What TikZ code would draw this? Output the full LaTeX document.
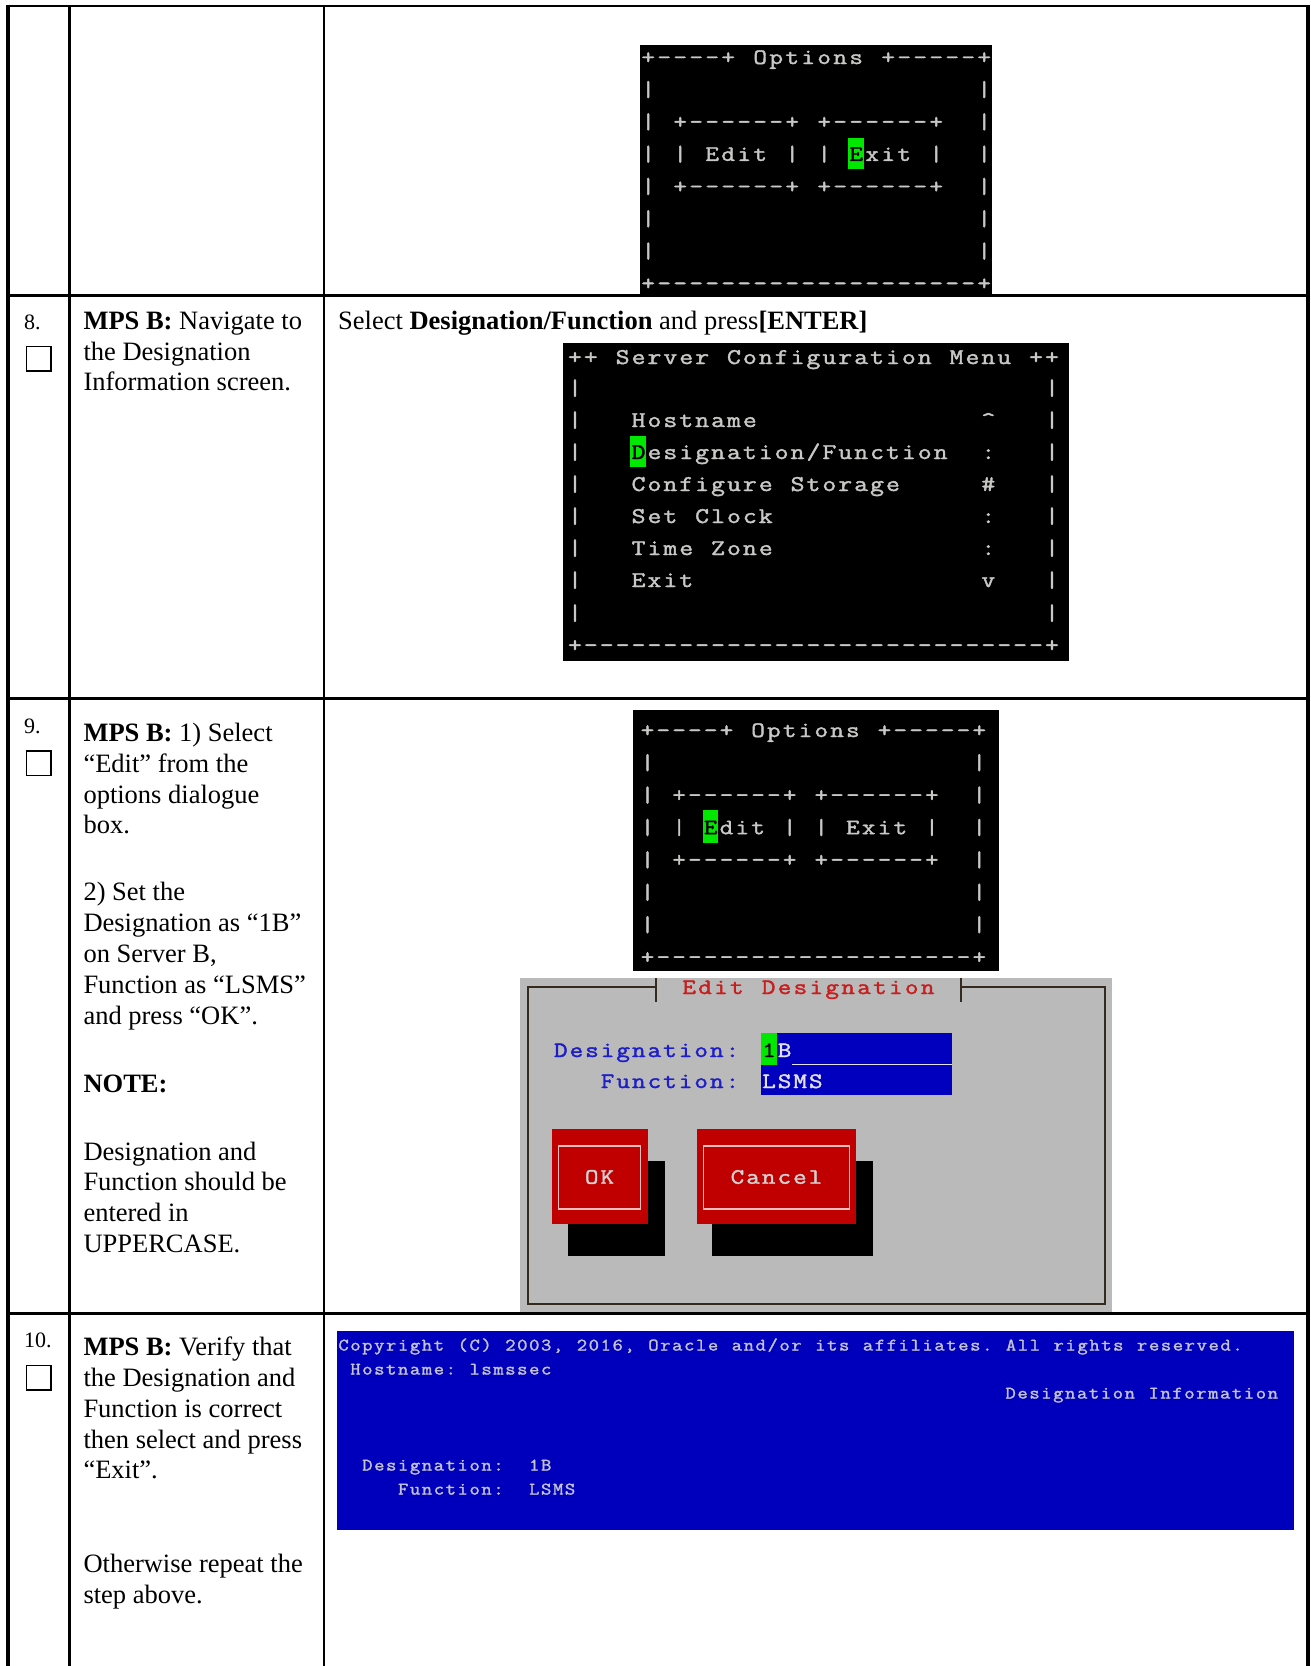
\documentclass[tikz,border=0pt]{standalone}
\usepackage{graphicx}
\usepackage{fontspec}
\setmainfont{Liberation Serif}
\newfontfamily\termfont{Latin Modern Mono}[FakeBold=1.6]

\definecolor{termfg}{RGB}{200,200,198}
\definecolor{hlgreen}{RGB}{0,232,0}
\definecolor{dlggray}{RGB}{186,186,186}
\definecolor{dlgframe}{RGB}{52,42,30}
\definecolor{dlgred}{RGB}{192,0,0}
\definecolor{dlgtitle}{RGB}{200,30,30}
\definecolor{dlgblue}{RGB}{30,30,200}
\definecolor{fieldblue}{RGB}{0,0,190}
\definecolor{fieldfg}{RGB}{225,225,235}
\definecolor{btnline}{RGB}{235,190,190}
\definecolor{btntext}{RGB}{210,210,210}
\definecolor{infobg}{RGB}{0,0,188}
\definecolor{infofg}{RGB}{194,194,210}

% fixed-pitch character cells for the terminal screens,
% each glyph widened a little to fill its cell like a console font
\newlength\tpitch
\def\txs{1}
\def\tstopmark{TSTOP}
\def\tline#1{\tlineloop#1\tstopmark}
\def\tlineloop#1{\ifx#1\tstopmark\else\makebox[\tpitch][c]{\scalebox{\txs}[1]{#1}}\expandafter\tlineloop\fi}
\newcommand\monofont[3]{\termfont\fontsize{#1}{30}\selectfont\setlength{\tpitch}{#2pt}\def\txs{#3}}

\tikzset{
  body/.style={anchor=base west, inner sep=0pt, font=\fontsize{26.5}{30.8}\selectfont},
  numlbl/.style={anchor=base west, inner sep=0pt, font=\fontsize{22}{26}\selectfont},
  mono/.style={anchor=base west, inner sep=0pt, text=termfg},
  monoA/.style={mono, font={\monofont{22}{16}{1.2}}},
  monoB/.style={mono, font={\monofont{22.5}{15.9}{1.2}}},
  monoC/.style={mono, font={\monofont{22}{15.8}{1.2}}},
  monoD/.style={mono, font={\monofont{22}{15.6}{1.2}}},
  monoE/.style={mono, text=infofg, font={\monofont{17.5}{11.92}{1.15}}},
  outerrule/.style={line width=3.6pt},
  rowrule/.style={line width=2.6pt},
  colrule/.style={line width=2.4pt},
  chkbox/.style={draw, line width=1.8pt},
}

\begin{document}
\begin{tikzpicture}[x=1pt,y=-1pt]
\useasboundingbox (0,0) rectangle (1310,1666);
\fill[white] (0,0) rectangle (1310,1666);

% ---------- Options dialogue, Exit selected ----------
\fill[black] (640,45) rectangle (992,296);
\node[monoA] (oa0) at (640,64.0)  {\tline{+----+~Options~+-----+}};
\node[monoA] (oa1) at (640,96.3)  {\tline{|~~~~~~~~~~~~~~~~~~~~|}};
\node[monoA] (oa2) at (640,128.6) {\tline{|~+------+~+------+~~|}};
\node[monoA] (oa3) at (640,160.9) {\tline{|~|~Edit~|~|~~xit~|~~|}};
\node[monoA] (oa4) at (640,193.2) {\tline{|~+------+~+------+~~|}};
\node[monoA] (oa5) at (640,225.5) {\tline{|~~~~~~~~~~~~~~~~~~~~|}};
\node[monoA] (oa6) at (640,257.8) {\tline{|~~~~~~~~~~~~~~~~~~~~|}};
\node[monoA] (oa7) at (640,290.1) {\tline{+--------------------+}};
\fill[hlgreen] (848,138.4) rectangle (864,169.4);
\node[monoA, text=black] (oahl) at (848,160.9) {\tline{E}};

% ---------- Server Configuration Menu ----------
\fill[black] (563,343) rectangle (1069,661);
\node[monoB] (sm0) at (566.8,364) {\tline{++~Server~Configuration~Menu~++}};
\node[monoB] (sm1) at (566.8,395) {\tline{|~~~~~~~~~~~~~~~~~~~~~~~~~~~~~|}};
\node[monoB] (sm2) at (566.8,427) {\tline{|~~~Hostname~~~~~~~~~~~~~~\textasciicircum~~~|}};
\node[monoB] (sm3) at (566.8,459) {\tline{|~~~~esignation/Function~~:~~~|}};
\node[monoB] (sm4) at (566.8,491) {\tline{|~~~Configure~Storage~~~~~\#~~~|}};
\node[monoB] (sm5) at (566.8,523) {\tline{|~~~Set~Clock~~~~~~~~~~~~~:~~~|}};
\node[monoB] (sm6) at (566.8,555) {\tline{|~~~Time~Zone~~~~~~~~~~~~~:~~~|}};
\node[monoB] (sm7) at (566.8,587) {\tline{|~~~Exit~~~~~~~~~~~~~~~~~~v~~~|}};
\node[monoB] (sm8) at (566.8,620) {\tline{|~~~~~~~~~~~~~~~~~~~~~~~~~~~~~|}};
\node[monoB] (sm9) at (566.8,652) {\tline{+-----------------------------+}};
\fill[hlgreen] (630.4,436) rectangle (646.3,467);
\node[monoB, text=black] (smhl) at (630.4,459) {\tline{D}};

% ---------- Options dialogue, Edit selected ----------
\fill[black] (633,710) rectangle (999,971);
\node[monoC] (ob0) at (639.4,737.0) {\tline{+----+~Options~+-----+}};
\node[monoC] (ob1) at (639.4,769.4) {\tline{|~~~~~~~~~~~~~~~~~~~~|}};
\node[monoC] (ob2) at (639.4,801.8) {\tline{|~+------+~+------+~~|}};
\node[monoC] (ob3) at (639.4,834.2) {\tline{|~|~~dit~|~|~Exit~|~~|}};
\node[monoC] (ob4) at (639.4,866.6) {\tline{|~+------+~+------+~~|}};
\node[monoC] (ob5) at (639.4,899.0) {\tline{|~~~~~~~~~~~~~~~~~~~~|}};
\node[monoC] (ob6) at (639.4,931.4) {\tline{|~~~~~~~~~~~~~~~~~~~~|}};
\node[monoC] (ob7) at (639.4,963.8) {\tline{+--------------------+}};
\fill[hlgreen] (702.6,810) rectangle (718.4,843);
\node[monoC, text=black] (obhl) at (702.6,834.2) {\tline{E}};

% ---------- Edit Designation dialogue ----------
\fill[dlggray] (520,978) rectangle (1112,1312);
\draw[dlgframe, line width=2pt] (656,986.7) -- (527.5,986.7) -- (527.5,1304) -- (1105,1304) -- (1105,986.7) -- (961,986.7);
\draw[dlgframe, line width=2pt] (656,978) -- (656,1002);
\draw[dlgframe, line width=2pt] (961,978) -- (961,1002);
\node[mono, text=dlgtitle, font={\monofont{22}{15.9}{1.2}}] (edtitle) at (681,994) {\tline{Edit~Designation}};
\node[monoD, text=dlgblue] (edlab1) at (552.8,1057) {\tline{Designation:}};
\node[monoD, text=dlgblue] (edlab2) at (599.6,1088) {\tline{Function:}};
\fill[fieldblue] (761,1033) rectangle (952,1095);
\draw[fieldfg, line width=1.4pt] (792,1064.5) -- (952,1064.5);
\fill[hlgreen] (761,1033) rectangle (776.6,1065);
\node[monoD, text=black] (edval1a) at (761,1057) {\tline{1}};
\node[monoD, text=fieldfg] (edval1b) at (776.6,1057) {\tline{B}};
\node[monoD, text=fieldfg] (edval2) at (761,1088) {\tline{LSMS}};
% OK button
\fill[black] (568.4,1160.7) rectangle (664.5,1256);
\fill[dlgred] (552,1129.3) rectangle (648,1224);
\draw[btnline, line width=1.5pt] (558.6,1146) rectangle (640.7,1209);
\node[monoD, text=btntext, anchor=center] (okbtn) at (599.5,1177) {\tline{OK}};
% Cancel button
\fill[black] (712.3,1160.7) rectangle (872.6,1256);
\fill[dlgred] (696.8,1129.3) rectangle (856.3,1224);
\draw[btnline, line width=1.5pt] (703.4,1146) rectangle (849.3,1209);
\node[monoD, text=btntext, anchor=center] (cancelbtn) at (776.5,1177) {\tline{Cancel}};

% ---------- Designation Information screen ----------
\fill[infobg] (337,1331) rectangle (1294,1530);
\node[monoE] (di0) at (337.4,1350.5) {\tline{Copyright~(C)~2003,~2016,~Oracle~and/or~its~affiliates.~All~rights~reserved.}};
\node[monoE] (di1) at (337.4,1374.5) {\tline{~Hostname:~lsmssec}};
\node[monoE] (di2) at (1004.5,1398.5) {\tline{Designation~Information}};
\node[monoE] (di3) at (337.4,1470.5) {\tline{~~Designation:~~1B}};
\node[monoE] (di4) at (337.4,1494.5) {\tline{~~~~~Function:~~LSMS}};

% ---------- step 8 ----------
\node[numlbl] (n8) at (24,329.3) {8.};
\draw[chkbox] (26.5,346.5) rectangle (51,371);
\node[body] (s8a) at (83.3,329.3) {\textbf{MPS B:} Navigate to};
\node[body] (s8b) at (83.3,360.1) {the Designation};
\node[body] (s8c) at (83.3,390.9) {Information screen.};
\node[body] (s8r) at (338,329.3) {Select \textbf{Designation/Function} and press\textbf{[ENTER]}};

% ---------- step 9 ----------
\node[numlbl] (n9) at (24,733.3) {9.};
\draw[chkbox] (26.5,751) rectangle (51,775.5);
\node[body] (s9a) at (83.3,741.5)  {\textbf{MPS B:} 1) Select};
\node[body] (s9b) at (83.3,772.3)  {“Edit” from the};
\node[body] (s9c) at (83.3,803.1)  {options dialogue};
\node[body] (s9d) at (83.3,833.9)  {box.};
\node[body] (s9e) at (83.3,900.9)  {2) Set the};
\node[body] (s9f) at (83.3,931.7)  {Designation as “1B”};
\node[body] (s9g) at (83.3,962.5)  {on Server B,};
\node[body] (s9h) at (83.3,993.3)  {Function as “LSMS”};
\node[body] (s9i) at (83.3,1024.1) {and press “OK”.};
\node[body] (s9j) at (83.3,1092.2) {\textbf{NOTE:}};
\node[body] (s9k) at (83.3,1160.1) {Designation and};
\node[body] (s9l) at (83.3,1190.9) {Function should be};
\node[body] (s9m) at (83.3,1221.7) {entered in};
\node[body] (s9n) at (83.3,1252.5) {UPPERCASE.};

% ---------- step 10 ----------
\node[numlbl] (n10) at (24,1347) {10.};
\draw[chkbox] (26.5,1365.5) rectangle (51,1390);
\node[body] (s10a) at (83.3,1355.6) {\textbf{MPS B:} Verify that};
\node[body] (s10b) at (83.3,1386.4) {the Designation and};
\node[body] (s10c) at (83.3,1417.2) {Function is correct};
\node[body] (s10d) at (83.3,1448.0) {then select and press};
\node[body] (s10e) at (83.3,1478.8) {“Exit”.};
\node[body] (s10f) at (83.3,1572.4) {Otherwise repeat the};
\node[body] (s10g) at (83.3,1603.2) {step above.};

% ---------- table rules ----------
\draw[rowrule] (6.2,6) -- (1310,6);
\draw[rowrule] (6.2,295.7) -- (1310,295.7);
\draw[rowrule] (6.2,698.7) -- (1310,698.7);
\draw[rowrule] (6.2,1313.5) -- (1310,1313.5);
\draw[colrule] (69.5,6) -- (69.5,1666);
\draw[colrule] (323.7,6) -- (323.7,1666);
\draw[outerrule] (8,4.7) -- (8,1666);
\draw[outerrule] (1308.2,4.7) -- (1308.2,1666);
\end{tikzpicture}
\end{document}
